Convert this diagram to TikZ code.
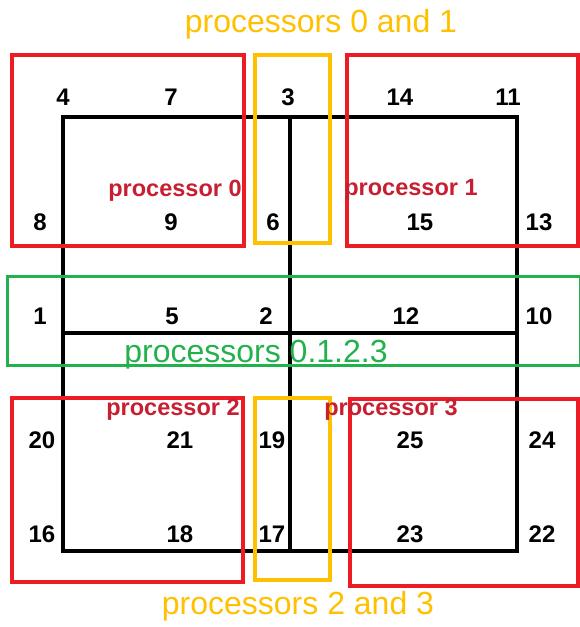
\documentclass[tikz,border=0pt]{standalone}
\usepackage{fontspec}
\setmainfont{Liberation Sans}
\definecolor{boxred}{HTML}{ED1C24}
\definecolor{txtred}{HTML}{C81E32}
\definecolor{boxyel}{HTML}{FFC000}
\definecolor{boxgrn}{HTML}{22B14C}
\tikzset{
  grid/.style={line width=3.5pt, black},
  redbox/.style={draw=boxred, line width=3.5pt},
  yelbox/.style={draw=boxyel, line width=3.5pt},
  grnbox/.style={draw=boxgrn, line width=3pt},
  num/.style={inner sep=0pt, anchor=center, font=\fontsize{24}{24}\selectfont\bfseries},
  proc/.style={inner sep=0pt, anchor=base, text=txtred, font=\fontsize{23.5}{23.5}\selectfont\bfseries},
  big/.style={inner sep=0pt, anchor=base, font=\fontsize{32}{32}\selectfont},
}
\begin{document}
\begin{tikzpicture}[x=1pt, y=-1pt]
\useasboundingbox (0,0) rectangle (580,627);
% grid
\draw[grid] (63,117) rectangle (517,551);
\draw[grid] (290,117) -- (290,551);
\draw[grid] (63,333) -- (517,333);
% highlight boxes
\draw[redbox] (12,55) rectangle (244,246);
\draw[redbox] (347,55) rectangle (578,246);
\draw[redbox] (12,398) rectangle (243,582);
\draw[redbox] (350,399) rectangle (578,586);
\draw[yelbox] (255,55) rectangle (330,243);
\draw[yelbox] (255,398) rectangle (330,580);
\draw[grnbox] (7,276) rectangle (580,365);
% numbers
\node[num] (n4) at (63,97) {4};
\node[num] (n7) at (171,97) {7};
\node[num] (n3) at (288,97) {3};
\node[num] (n14) at (400,97) {14};
\node[num] (n11) at (508,97) {11};
\node[num] (n8) at (40,222) {8};
\node[num] (n9) at (171,222) {9};
\node[num] (n6) at (273,222) {6};
\node[num] (n15) at (420,222) {15};
\node[num] (n13) at (539,222) {13};
\node[num] (n1) at (40,316) {1};
\node[num] (n5) at (172,316) {5};
\node[num] (n2) at (266,316) {2};
\node[num] (n12) at (406,316) {12};
\node[num] (n10) at (539,316) {10};
\node[num] (n20) at (42,440) {20};
\node[num] (n21) at (180,440) {21};
\node[num] (n19) at (272,440) {19};
\node[num] (n25) at (410,440) {25};
\node[num] (n24) at (542,440) {24};
\node[num] (n16) at (42,534) {16};
\node[num] (n18) at (180,534) {18};
\node[num] (n17) at (272,534) {17};
\node[num] (n23) at (410,534) {23};
\node[num] (n22) at (542,534) {22};
% processor labels
\node[proc] (p0) at (175,196) {processor 0};
\node[proc] (p1) at (411,195) {processor 1};
\node[proc] (p2) at (173,415) {processor 2};
\node[proc] (p3) at (391,415) {processor 3};
% group labels
\node[big, text=boxyel] (g01) at (321,32) {processors 0 and 1};
\node[big, text=boxgrn] (g0123) at (256,362) {processors 0.1.2.3};
\node[big, text=boxyel] (g23) at (298,614) {processors 2 and 3};
\end{tikzpicture}
\end{document}
